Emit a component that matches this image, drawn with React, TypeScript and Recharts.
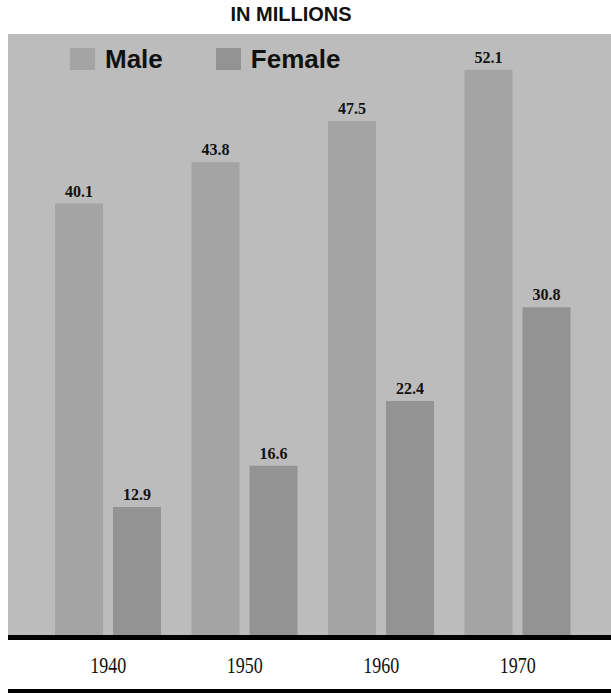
import React from "react";
import { BarChart, Bar, XAxis, YAxis, Legend, LabelList } from "recharts";

// values printed on the bars, in millions
const years: string[] = ["1940", "1950", "1960", "1970"];
const maleValues: number[] = [40.1, 43.8, 47.5, 52.1];
const femaleValues: number[] = [12.9, 16.6, 22.4, 30.8];

const data = years.map((year, i) => ({
  year,
  male: maleValues[i],
  female: femaleValues[i],
}));

const BG = "#bcbcbc";
const MALE = "#a4a4a4";
const FEMALE = "#939393";

const valueFont = "'Liberation Serif', 'Times New Roman', serif";
const legendFont = "'Liberation Sans', Arial, sans-serif";

const YearTick = (props: any) => {
  const { x, y, payload } = props;
  return (
    <text
      x={x}
      y={y}
      dy={35}
      textAnchor="middle"
      fontFamily={valueFont}
      fontSize={23}
      textLength={36}
      lengthAdjust="spacingAndGlyphs"
      fill="#111"
    >
      {payload.value}
    </text>
  );
};

const LegendBox = () => {
  const items = [
    { label: "Male", color: MALE, gap: 53 },
    { label: "Female", color: FEMALE, gap: 0 },
  ];
  return (
    <div style={{ display: "flex", alignItems: "center" }}>
      {items.map((it) => (
        <div
          key={it.label}
          style={{ display: "flex", alignItems: "center", marginRight: it.gap }}
        >
          <span
            style={{
              display: "inline-block",
              width: 25,
              height: 22,
              background: it.color,
              marginRight: 10,
            }}
          />
          <span
            style={{
              fontFamily: legendFont,
              fontWeight: "bold",
              fontSize: 26,
              color: "#111",
              lineHeight: "22px",
            }}
          >
            {it.label}
          </span>
        </div>
      ))}
    </div>
  );
};

export default function App() {
  return (
    <div
      style={{
        position: "absolute",
        top: 0,
        left: 0,
        width: 611,
        height: 695,
        background: "#fff",
        overflow: "hidden",
      }}
    >
      <div
        style={{
          position: "absolute",
          top: 3,
          left: 0,
          width: 582,
          textAlign: "center",
          fontFamily: "'Liberation Sans', Arial, sans-serif",
          fontWeight: "bold",
          fontSize: 20,
          color: "#111",
        }}
      >
        IN MILLIONS
      </div>
      <div
        style={{
          position: "absolute",
          top: 34,
          left: 8,
          width: 603,
          height: 603,
          background: BG,
        }}
      />
      <div style={{ position: "absolute", top: 0, left: 0 }}>
        <BarChart
          width={611}
          height={695}
          data={data}
          margin={{ top: 34, right: 0, left: 8, bottom: 0 }}
          barSize={48}
          barGap={10}
        >
          <XAxis
            dataKey="year"
            height={57.5}
            padding={{ left: 32, right: 25 }}
            axisLine={{ stroke: "#000", strokeWidth: 5 }}
            tickLine={false}
            tickSize={0}
            tickMargin={0}
            tick={<YearTick />}
          />
          <YAxis hide width={0} domain={[1.2, 55.3]} allowDataOverflow />
          <Legend
            layout="horizontal"
            verticalAlign="middle"
            align="center"
            content={<LegendBox />}
            wrapperStyle={{ top: 48, left: 70, width: 320, height: 24 }}
          />
          <Bar dataKey="male" name="Male" fill={MALE} isAnimationActive={false}>
            <LabelList
              dataKey="male"
              position="top"
              offset={7}
              fill="#111"
              fontFamily={valueFont}
              fontWeight="bold"
              fontSize={16}
            />
          </Bar>
          <Bar dataKey="female" name="Female" fill={FEMALE} isAnimationActive={false}>
            <LabelList
              dataKey="female"
              position="top"
              offset={7}
              fill="#111"
              fontFamily={valueFont}
              fontWeight="bold"
              fontSize={16}
            />
          </Bar>
        </BarChart>
      </div>
      <div
        style={{
          position: "absolute",
          top: 689,
          left: 8,
          width: 603,
          height: 4,
          background: "#000",
        }}
      />
    </div>
  );
}
